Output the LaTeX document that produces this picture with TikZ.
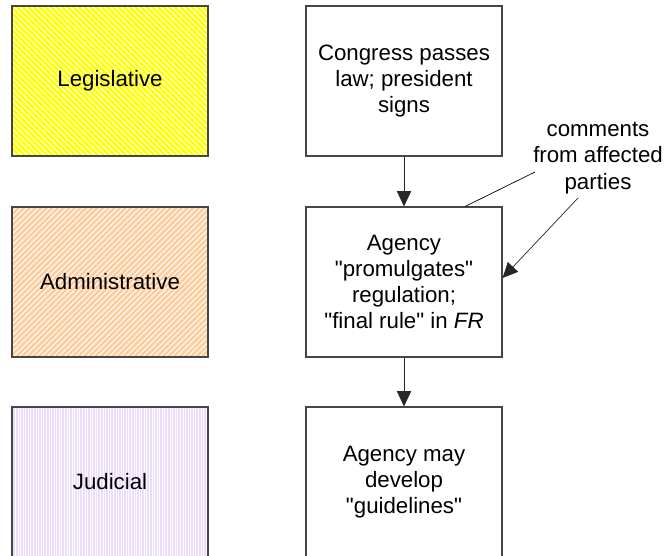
\documentclass[tikz,border=0pt]{standalone}
\usepackage{fontspec}
\setmainfont{Liberation Sans}
\usetikzlibrary{arrows.meta, patterns.meta, calc}
\definecolor{legisyellow}{RGB}{255, 255, 0}
\definecolor{adminpeach}{RGB}{255, 204, 156}
\definecolor{judlilac}{RGB}{236, 220, 255}
\definecolor{boxgray}{RGB}{70, 70, 70}

\begin{document}
\begin{tikzpicture}[x=0.03cm, y=-0.03cm,
  branch/.style={draw=boxgray, line width=0.9pt, minimum width=5.88cm, minimum height=4.5cm,
    inner sep=0pt, align=center, font=\fontsize{19}{22.3}\selectfont},
  legisbox/.style={branch, preaction={fill=legisyellow},
    preaction={pattern={Lines[angle=-45, distance=3.4pt, line width=0.9pt]}, pattern color=white}},
  adminbox/.style={branch, preaction={fill=adminpeach},
    preaction={pattern={Lines[angle=45, distance=3.4pt, line width=0.9pt]}, pattern color=white}},
  judbox/.style={branch, preaction={fill=judlilac},
    preaction={pattern={Lines[angle=90, distance=2.2pt, line width=0.8pt]}, pattern color=white}},
  stepbox/.style={branch, fill=white},
  flow/.style={-{Triangle[length=13pt, width=12pt]}, line width=0.8pt, draw=black!85},
  note/.style={align=center, inner sep=0pt, font=\fontsize{19}{22.3}\selectfont}]

  \path[use as bounding box, clip] (0,0) rectangle (665,556);

  % Branches
  \node[legisbox] (legis) at (110,81) {Legislative};
  \node[adminbox] (admin) at (110,282) {Administrative};
  \node[judbox] (judic) at (110,482) {Judicial};

  % Steps
  \node[stepbox] (congress) at (404,81) {Congress passes\\law; president\\signs};
  \node[stepbox] (agency) at (404,282) {Agency\\\textquotedbl promulgates\textquotedbl\\regulation;\\\textquotedbl final rule\textquotedbl{} in \textit{FR}};
  \node[stepbox] (guide) at (404,482) {Agency may\\develop\\\textquotedbl guidelines\textquotedbl};

  \draw[flow] (congress) -- (agency);
  \draw[flow] (agency) -- (guide);

  % Comments
  \node[note] (comments) at (598,158) {comments\\from affected\\parties};
  \coordinate (cfrom) at (535,172);
  \coordinate (cto) at (578,198);
  \draw[line width=0.6pt] (cfrom) -- ($(agency.north west)!0.81!(agency.north east)$);
  \draw[flow, line width=0.6pt] (cto) -- ($(agency.east)+(0,-4)$);
\end{tikzpicture}
\end{document}
